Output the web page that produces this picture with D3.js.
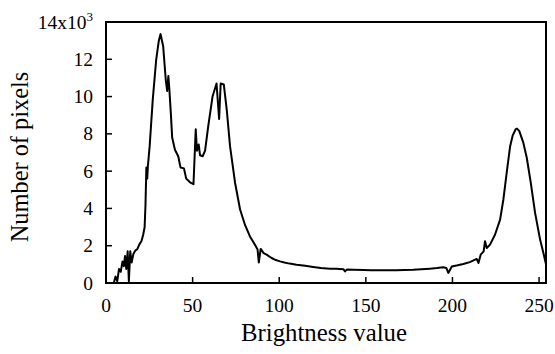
<!DOCTYPE html>
<html>
<head>
<meta charset="utf-8">
<script src="https://cdn.jsdelivr.net/npm/d3@7"></script>
</head>
<body style="margin:0">
<svg id="chart" width="555" height="354"></svg>
<script>
// Brightness values (x) and pixel counts (y)
const brightness = [
  0, 3, 4.5, 5.5, 6.5, 7.5, 8.5, 9.5, 10.3, 11, 11.7, 12.5, 13.2, 14, 14.8, 15.8, 17, 18, 19.2, 20.5,
  21.5, 22.3, 22.8, 23.3, 23.8, 24.2, 25.2, 27, 29, 30.5, 31.5, 33, 34.5, 35.3, 36, 36.5, 37.4, 38.2, 39.8, 41.7,
  43, 45, 46.3, 48.5, 50.5, 51.8, 52.5, 53.5, 54.3, 55.8, 57.2, 59, 61.5, 63.8, 65.3, 66.2, 68, 69.7, 71.6, 74.5,
  77.4, 80.3, 83.1, 86, 87.5, 88.2, 89.3, 91, 92.7, 95.6, 98, 100.5, 103, 106, 110, 115, 119.6, 124, 129.3, 133,
  137, 138, 139, 143, 148.6, 153, 158, 163, 167.7, 172, 177.4, 182, 187, 191, 194.7, 196.5, 197.6, 199.6, 203, 206.3,
  210, 214, 215, 216.3, 218, 218.8, 219.8, 221.7, 224.6, 227.5, 229.4, 231.3, 233.3, 234.8, 236.5, 237.3, 238.6, 240.9, 242.9, 245.2,
  247.7, 250.6, 252.5, 254
];
const pixelCounts = [
  0, 0, 0, 350, 100, 750, 600, 1150, 900, 1450, 750, 1700, 100, 1700, 1100, 1550, 1750, 1800, 2060, 2250,
  2600, 3000, 4200, 6200, 5600, 6300, 7340, 9850, 12000, 13000, 13350, 12700, 10900, 10300, 11100, 10500, 9150, 7800, 7150, 6800,
  6200, 6150, 5600, 5400, 5300, 8250, 7100, 7430, 6850, 6800, 7100, 8400, 10000, 10700, 8800, 10700, 10650, 9300, 7340, 5380,
  3940, 3100, 2500, 2050, 1800, 1100, 1830, 1600, 1520, 1340, 1230, 1160, 1100, 1040, 980, 920, 860, 810, 770, 760,
  740, 620, 720, 710, 700, 690, 680, 690, 680, 700, 710, 740, 770, 800, 840, 800, 540, 890, 950, 1020,
  1120, 1290, 1075, 1520, 1700, 2240, 1880, 2060, 2600, 3400, 4480, 5910, 7340, 7920, 8250, 8280, 8150, 7530, 6720, 5380,
  3760, 2330, 1610, 1000
];
const xTicks = [0, 50, 100, 150, 200, 250];
const yTicks = [0, 2000, 4000, 6000, 8000, 10000, 12000, 14000];
const yTickLabels = ["0", "2", "4", "6", "8", "10", "12", "14"];
const xTitle = "Brightness value";
const yTitle = "Number of pixels";

const FONT = "Liberation Serif";

const svg = d3.select("#chart");
const margin = { left: 106, right: 9, top: 22, bottom: 71 };
const W = 555, H = 354;
const x = d3.scaleLinear().domain([0, 254]).range([margin.left, W - margin.right]);
const y = d3.scaleLinear().domain([0, 14000]).range([H - margin.bottom, margin.top]);

const data = brightness.map((b, i) => ({ b, c: pixelCounts[i] }));

// data line
svg.append("path")
  .datum(data)
  .attr("fill", "none")
  .attr("stroke", "#000")
  .attr("stroke-width", 2)
  .attr("stroke-linejoin", "round")
  .attr("d", d3.line().x(d => x(d.b)).y(d => y(d.c)));

// frame
svg.append("rect")
  .attr("x", x(0)).attr("y", y(14000))
  .attr("width", x(254) - x(0)).attr("height", y(0) - y(14000))
  .attr("fill", "none").attr("stroke", "#000").attr("stroke-width", 2);

// x axis ticks (inward) and labels
const gx = svg.append("g").attr("transform", `translate(0,${y(0)})`);
gx.selectAll("line").data(xTicks).join("line")
  .attr("x1", d => x(d)).attr("x2", d => x(d)).attr("y1", 0).attr("y2", -6)
  .attr("stroke", "#000").attr("stroke-width", 1.5);
gx.selectAll("text").data(xTicks).join("text")
  .attr("x", d => x(d)).attr("y", 29)
  .attr("text-anchor", "middle")
  .attr("font-family", FONT).attr("font-size", 19.5)
  .text(d => d);

// y axis ticks (inward) and labels
const gy = svg.append("g").attr("transform", `translate(${x(0)},0)`);
gy.selectAll("line").data(yTicks).join("line")
  .attr("x1", 0).attr("x2", 6).attr("y1", d => y(d)).attr("y2", d => y(d))
  .attr("stroke", "#000").attr("stroke-width", 1.5);
gy.selectAll("text").data(yTicks).join("text")
  .attr("x", -13).attr("y", d => y(d)).attr("dy", "0.34em")
  .attr("text-anchor", "end")
  .attr("font-family", FONT).attr("font-size", 19.5)
  .each(function(d, i) {
    const t = d3.select(this);
    if (d === 14000) {
      t.append("tspan").text(yTickLabels[i] + "x10");
      t.append("tspan").text("3").attr("font-size", 13).attr("dy", "-0.55em");
    } else {
      t.text(yTickLabels[i]);
    }
  });

// axis titles
svg.append("text")
  .attr("x", 324)
  .attr("y", 341)
  .attr("text-anchor", "middle")
  .attr("font-family", FONT)
  .attr("font-size", 24.8)
  .text(xTitle);

svg.append("text")
  .attr("transform", `translate(28,157) rotate(-90)`)
  .attr("text-anchor", "middle")
  .attr("font-family", FONT)
  .attr("font-size", 24.4)
  .text(yTitle);
</script>
</body>
</html>
